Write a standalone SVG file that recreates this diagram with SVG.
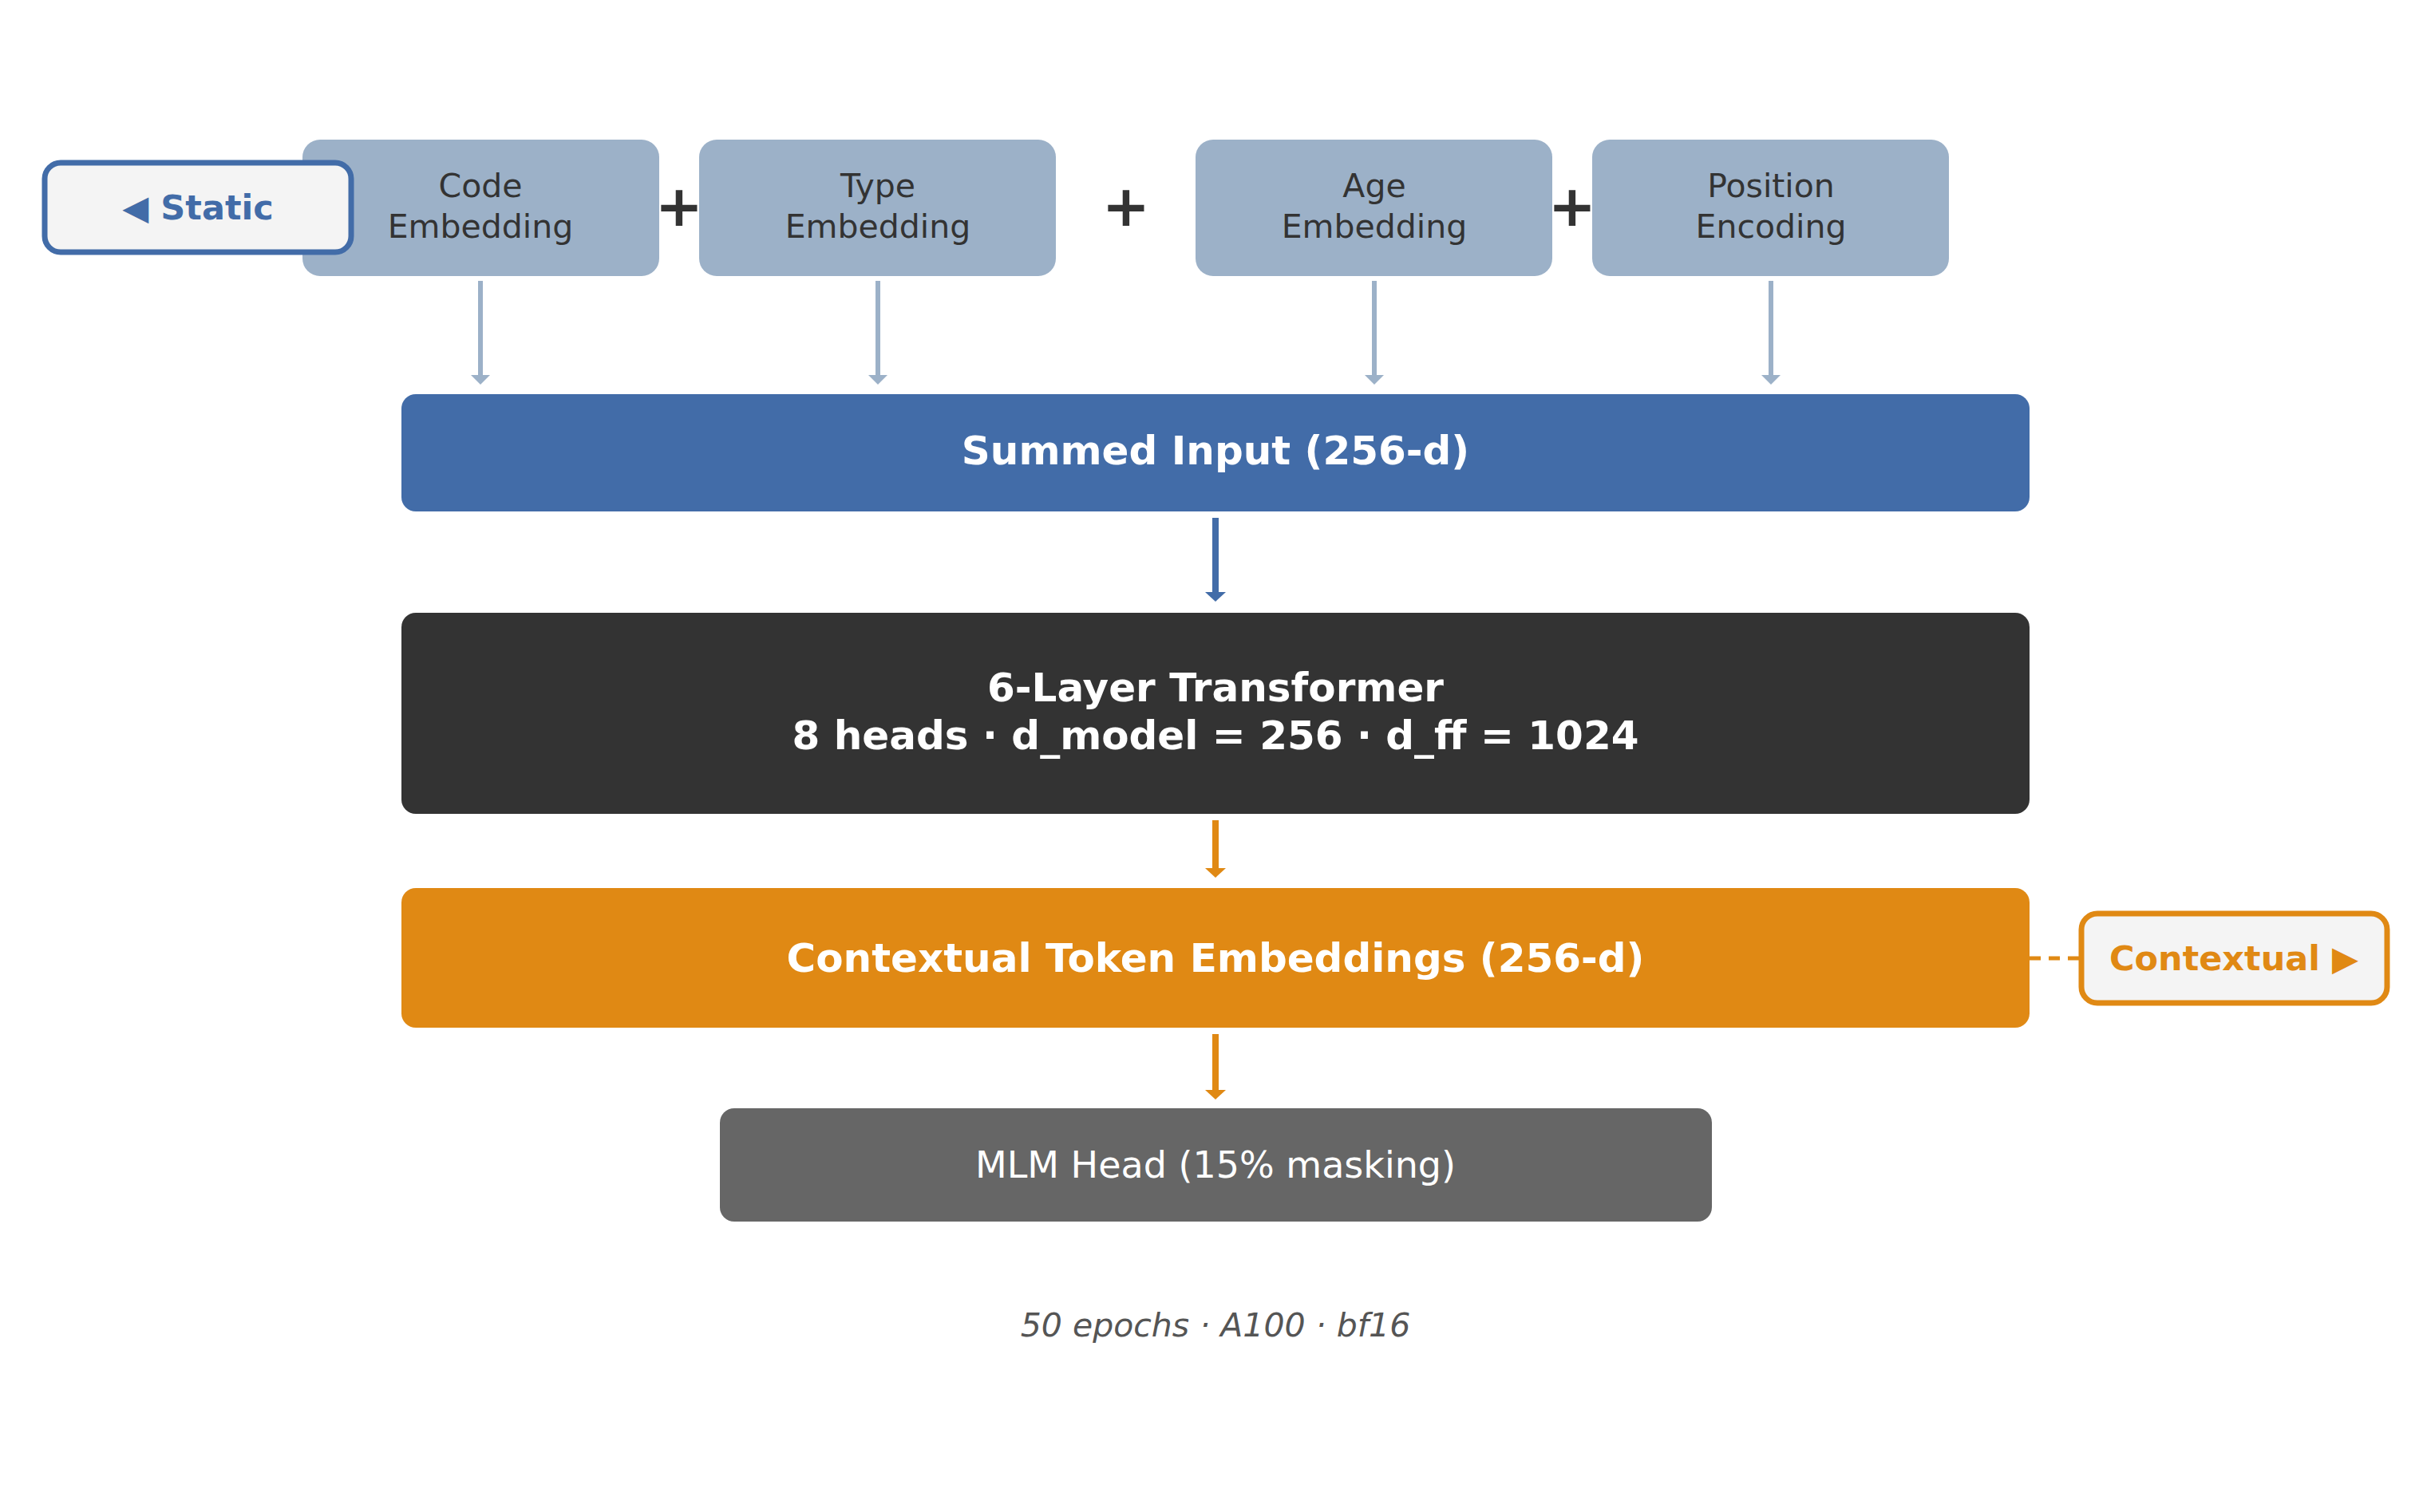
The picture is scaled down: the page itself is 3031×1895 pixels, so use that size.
<svg xmlns="http://www.w3.org/2000/svg" width="3031" height="1895" viewBox="0 0 3031 1895">
<style>
text{font-family:"DejaVu Sans",sans-serif;text-anchor:middle;dominant-baseline:central}
.emb{fill:#9cb1c8}
.et{font-size:41px;fill:#333}
.plus{font-size:72px;font-weight:bold;fill:#333}
.big{font-size:50px;font-weight:bold;fill:#fff}
</style>
<defs>
<marker id="ag" viewBox="0 0 10 10" refX="5" refY="5" markerWidth="4" markerHeight="4" orient="auto"><path d="M0,2 L5,8 L10,2 L5,5 Z" transform="rotate(-90 5 5)" fill="#9cb1c8"/></marker>
</defs>
<rect width="3031" height="1895" fill="#fff"/>
<g id="code"><rect class="emb" x="379" y="175" width="447" height="171" rx="22"/><text class="et" x="602" y="233">Code</text><text class="et" x="602" y="284">Embedding</text></g>
<g id="type"><rect class="emb" x="876" y="175" width="447" height="171" rx="22"/><text class="et" x="1100" y="233">Type</text><text class="et" x="1100" y="284">Embedding</text></g>
<g id="age"><rect class="emb" x="1498" y="175" width="447" height="171" rx="22"/><text class="et" x="1722" y="233">Age</text><text class="et" x="1722" y="284">Embedding</text></g>
<g id="pos"><rect class="emb" x="1995" y="175" width="447" height="171" rx="22"/><text class="et" x="2219" y="233">Position</text><text class="et" x="2219" y="284">Encoding</text></g>
<g id="plus"><text class="plus" x="851" y="258">+</text><text class="plus" x="1411" y="258">+</text><text class="plus" x="1970" y="258">+</text></g>
<g id="static"><rect x="56" y="204" width="384" height="112" rx="20" fill="#f4f4f4" stroke="#426ca8" stroke-width="7"/><text x="248" y="260" font-size="43" font-weight="bold" fill="#426ca8">◀  Static</text></g>
<g id="summed"><rect x="503" y="494" width="2040" height="147" rx="18" fill="#426ca8"/><text class="big" x="1523" y="565">Summed Input  (256-d)</text></g>
<g id="transformer"><rect x="503" y="768" width="2040" height="252" rx="18" fill="#333"/><text class="big" x="1523" y="862">6-Layer Transformer</text><text class="big" x="1523" y="922">8 heads  ·  d_model = 256  ·  d_ff = 1024</text></g>
<g id="contextual"><rect x="503" y="1113" width="2040" height="175" rx="18" fill="#e08914"/><text class="big" x="1523" y="1201">Contextual Token Embeddings  (256-d)</text></g>
<g id="mlm"><rect x="902" y="1389" width="1243" height="142" rx="18" fill="#666"/><text x="1523" y="1460" font-size="46" fill="#fff">MLM Head  (15% masking)</text></g>
<g id="ctxbadge"><rect x="2608" y="1145" width="383" height="112" rx="20" fill="#f4f4f4" stroke="#e08914" stroke-width="7"/><text x="2799" y="1201" font-size="43" font-weight="bold" fill="#e08914">Contextual  ▶</text></g>
<g id="connectors" fill="none" stroke-width="6">
<g stroke="#9cb1c8"><line x1="602" y1="352" x2="602" y2="478"/><line x1="1100" y1="352" x2="1100" y2="478"/><line x1="1722" y1="352" x2="1722" y2="478"/><line x1="2219" y1="352" x2="2219" y2="478"/></g>
<g fill="#9cb1c8"><path d="M590,470 L602,482 L614,470 Z"/><path d="M1088,470 L1100,482 L1112,470 Z"/><path d="M1710,470 L1722,482 L1734,470 Z"/><path d="M2207,470 L2219,482 L2231,470 Z"/></g>
<line x1="1523" y1="649" x2="1523" y2="748" stroke="#426ca8" stroke-width="8"/><path d="M1510,742 L1523,754 L1536,742 Z" fill="#426ca8"/>
<line x1="1523" y1="1028" x2="1523" y2="1094" stroke="#e08914" stroke-width="8"/><path d="M1510,1088 L1523,1100 L1536,1088 Z" fill="#e08914"/>
<line x1="1523" y1="1296" x2="1523" y2="1372" stroke="#e08914" stroke-width="8"/><path d="M1510,1366 L1523,1378 L1536,1366 Z" fill="#e08914"/>
<line x1="2543" y1="1201" x2="2606" y2="1201" stroke="#e08914" stroke-width="5" stroke-dasharray="14,10"/>
</g>
<text x="1523" y="1661" font-size="41" font-style="italic" fill="#555">50 epochs  ·  A100  ·  bf16</text>
</svg>
